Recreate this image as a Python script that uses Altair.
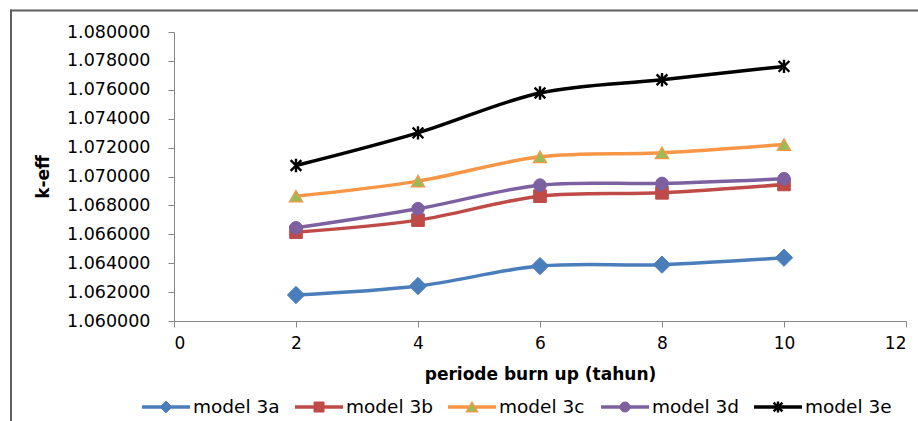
import altair as alt
import pandas as pd

# ---- data ----
years = [2, 4, 6, 8, 10]
series_names = ["model 3a", "model 3b", "model 3c", "model 3d", "model 3e"]
model_3a = [1.06180, 1.06242, 1.06380, 1.06390, 1.06438]
model_3b = [1.06615, 1.06698, 1.06864, 1.06887, 1.06945]
model_3c = [1.06864, 1.06968, 1.07136, 1.07164, 1.07221]
model_3d = [1.06645, 1.06777, 1.06940, 1.06952, 1.06984]
model_3e = [1.07076, 1.07302, 1.07578, 1.07670, 1.07762]
y_ticks = [1.060, 1.062, 1.064, 1.066, 1.068, 1.070, 1.072, 1.074, 1.076, 1.078, 1.080]
x_ticks = [0, 2, 4, 6, 8, 10, 12]
x_title = "periode burn up (tahun)"
y_title = "k-eff"

# ---- styles ----
FONT = "DejaVu Sans"
line_colors = ["#4A7EBB", "#BE4B48", "#F79646", "#7D60A0", "#000000"]
marker_fills = ["#4A7EBB", "#BE4B48", "#9BBB59", "#7D60A0", "#000000"]
marker_strokes = ["#4A7EBB", "#BE4B48", "#F79646", "#7D60A0", "#000000"]
ASTERISK = "M0,-1L0,1M-0.8,-0.8L0.8,0.8M-0.8,0.8L0.8,-0.8"
shapes = ["diamond", "square", "triangle-up", "circle", ASTERISK]
plot_sizes = [300, 160, 180, 160, 180]
legend_sizes = [140, 100, 130, 100, 120]
stroke_widths = [1, 1, 1.2, 1, 2.4]

all_vals = [model_3a, model_3b, model_3c, model_3d, model_3e]
rows = []
for name, vals in zip(series_names, all_vals):
    for yr, v in zip(years, vals):
        rows.append({"series": name, "year": yr, "keff": v})
df = pd.DataFrame(rows)
legend_df = pd.DataFrame({"series": series_names, "idx": list(range(len(series_names)))})

W, H = 732, 289

x_enc = alt.X(
    "year:Q",
    scale=alt.Scale(domain=[0, 12], nice=False),
    axis=alt.Axis(values=x_ticks, format="d", title=x_title, labelPadding=8,
                  titlePadding=15, tickSize=6, grid=False, labelOverlap=False),
)
y_enc = alt.Y(
    "keff:Q",
    scale=alt.Scale(domain=[1.06, 1.08], nice=False, zero=False),
    axis=alt.Axis(values=y_ticks, format=".6f", title=y_title, labelPadding=18,
                  titlePadding=14, tickSize=6, grid=False, labelOverlap=False,
                  labelFontSize=17.5),
)

base = alt.Chart(df)
lines = base.mark_line(interpolate="catmull-rom", strokeWidth=3.5).encode(
    x=x_enc, y=y_enc,
    color=alt.Color("series:N", scale=alt.Scale(domain=series_names, range=line_colors), legend=None),
)
point_layers = []
for i, name in enumerate(series_names):
    point_layers.append(
        base.transform_filter(alt.datum.series == name)
        .mark_point(shape=shapes[i], size=plot_sizes[i], fill=marker_fills[i],
                    stroke=marker_strokes[i], strokeWidth=stroke_widths[i],
                    opacity=1, fillOpacity=1)
        .encode(x=x_enc, y=y_enc)
    )
main = alt.layer(lines, *point_layers)

# ---- legend ----
lx = alt.X("idx:Q", scale=alt.Scale(domain=[0, 4], range=[-8, 604], nice=False), axis=None)
ly = alt.value(375)
lbase = alt.Chart(legend_df)
leg_lines = lbase.mark_point(shape="M-1,0L1,0", size=48 * 48, strokeWidth=3.5,
                             filled=False, opacity=1).encode(
    x=lx, y=ly,
    stroke=alt.Stroke("series:N", scale=alt.Scale(domain=series_names, range=line_colors), legend=None),
)
leg_marks = []
for i, name in enumerate(series_names):
    leg_marks.append(
        lbase.transform_filter(alt.datum.series == name)
        .mark_point(shape=shapes[i], size=legend_sizes[i], fill=marker_fills[i],
                    stroke=marker_strokes[i], strokeWidth=stroke_widths[i],
                    opacity=1, fillOpacity=1)
        .encode(x=lx, y=ly)
    )
leg_text = lbase.mark_text(align="left", baseline="middle", dx=27, fontSize=18.5,
                           font=FONT, color="#000000").encode(x=lx, y=ly, text="series:N")
legend = alt.layer(leg_lines, *leg_marks, leg_text)

# ---- chart-area frame (top and left edges visible) ----
frame_df = pd.DataFrame({"k": [0]})
frame_top = alt.Chart(frame_df).mark_rule(color="#5f5f5f", strokeWidth=2).encode(
    x=alt.value(-164), x2=alt.value(760), y=alt.value(-21.5)
)
frame_left = alt.Chart(frame_df).mark_rule(color="#5f5f5f", strokeWidth=2).encode(
    x=alt.value(-163), y=alt.value(-22.5), y2=alt.value(400)
)

chart = (
    alt.layer(frame_top, frame_left, main, legend)
    .resolve_scale(x="independent")
    .properties(
        width=W, height=H,
        autosize=alt.AutoSizeParams(type="none"),
        padding={"left": 174, "top": 32, "right": 12, "bottom": 100},
        background="#ffffff",
    )
    .configure_view(strokeWidth=0)
    .configure_axis(
        labelFont=FONT, labelFontSize=17, labelColor="#000000",
        titleFont=FONT, titleFontSize=17, titleFontWeight="bold", titleColor="#000000",
        domainColor="#868686", tickColor="#868686", domainWidth=1, tickWidth=1,
    )
)

chart.save("out.html", embed_options={"renderer": "svg", "actions": False})
